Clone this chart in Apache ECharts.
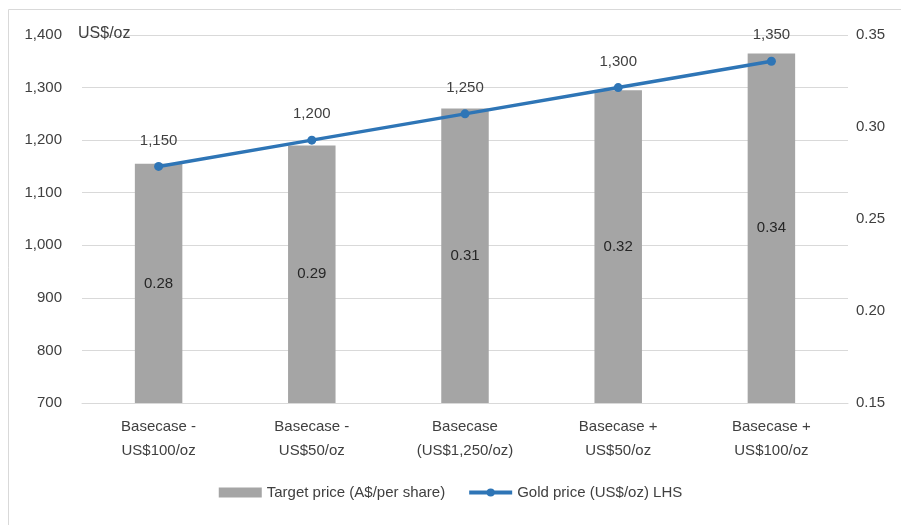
<!DOCTYPE html>
<html><head><meta charset="utf-8">
<script src="https://cdn.jsdelivr.net/npm/echarts@6/dist/echarts.min.js"></script>
<style>html,body{margin:0;padding:0;background:#fff}#c{width:901px;height:525px}</style>
</head><body><div id="c"></div>
<script>
const categories = ['Basecase -\nUS$100/oz','Basecase -\nUS$50/oz','Basecase\n(US$1,250/oz)','Basecase +\nUS$50/oz','Basecase +\nUS$100/oz'];
const targetPrice = [0.28, 0.29, 0.31, 0.32, 0.34];
const goldPrice = [1150, 1200, 1250, 1300, 1350];
const leftTicks = {min:700, max:1400, interval:100};
const rightTicks = {min:0.15, max:0.35, interval:0.05};

const FONT = "'Liberation Sans', Arial, sans-serif";
const chart = echarts.init(document.getElementById('c'));
chart.setOption({
  animation:false,
  textStyle:{fontFamily:FONT},
  graphic:[{type:'rect', shape:{x:8.5,y:9.5,width:900,height:520}, style:{fill:'none', stroke:'#d9d9d9', lineWidth:1}, silent:true}],
  grid:{left:82, right:53, top:35, bottom:122},
  legend:{
    bottom:20, left:'center', itemGap:22,
    textStyle:{fontSize:15, color:'#404040', fontFamily:FONT},
    data:[
      {name:'Target price (A$/per share)', icon:'rect', itemStyle:{color:'#a5a5a5'}},
      {name:'Gold price (US$/oz) LHS', lineStyle:{width:4}}
    ],
    itemWidth:43, itemHeight:10
  },
  xAxis:{
    type:'category', data:categories,
    axisLine:{lineStyle:{color:'#d9d9d9'}}, axisTick:{show:false},
    axisLabel:{fontSize:15, color:'#404040', lineHeight:24, margin:12, interval:0}
  },
  yAxis:[
    {type:'value', min:leftTicks.min, max:leftTicks.max, interval:leftTicks.interval,
     name:'US$/oz', nameLocation:'end', nameGap:-7,
     nameTextStyle:{fontSize:16, color:'#404040', align:'left', verticalAlign:'bottom', padding:[0,0,0,-4]},
     axisLine:{show:false}, axisTick:{show:false},
     axisLabel:{fontSize:15, color:'#404040', margin:20, formatter:v=>v.toLocaleString('en-US')},
     splitLine:{lineStyle:{color:'#d9d9d9', width:1}}},
    {type:'value', min:rightTicks.min, max:rightTicks.max, interval:rightTicks.interval,
     axisLine:{show:false}, axisTick:{show:false}, splitLine:{show:false},
     axisLabel:{fontSize:15, color:'#404040', margin:8, formatter:v=>v.toFixed(2)}}
  ],
  series:[
    {name:'Target price (A$/per share)', type:'bar', yAxisIndex:1, data:targetPrice,
     barWidth:'31%', itemStyle:{color:'#a5a5a5'},
     label:{show:true, position:'inside', fontSize:15, color:'#262626', formatter:p=>p.value.toFixed(2)}},
    {name:'Gold price (US$/oz) LHS', type:'line', yAxisIndex:0, data:goldPrice,
     symbol:'circle', symbolSize:9, lineStyle:{color:'#2e75b6', width:3.5},
     itemStyle:{color:'#2e75b6'},
     label:{show:true, position:'top', distance:14, fontSize:15, color:'#404040', formatter:p=>p.value.toLocaleString('en-US')}}
  ]
});
</script></body></html>
